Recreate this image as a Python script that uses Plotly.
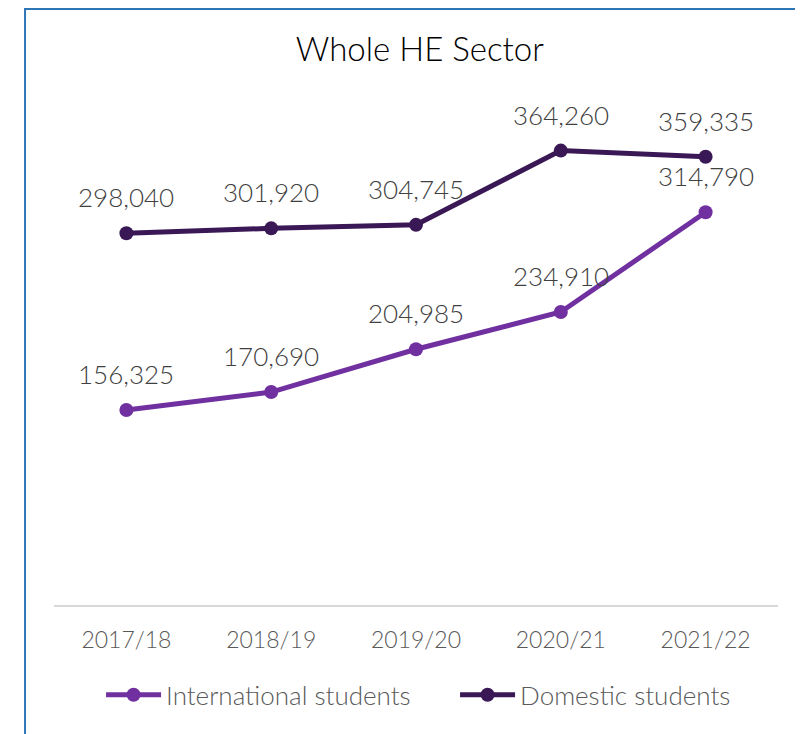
import plotly.graph_objects as go

years = ["2017/18", "2018/19", "2019/20", "2020/21", "2021/22"]
international = [156325, 170690, 204985, 234910, 314790]
domestic = [298040, 301920, 304745, 364260, 359335]

C_INT = "#7030A0"
C_DOM = "#3A1855"
FONT = "Lato"

fig = go.Figure()
fig.add_trace(go.Scatter(x=years, y=international, name="International students",
                         mode="lines+markers", line=dict(color=C_INT, width=5),
                         marker=dict(size=14, color=C_INT), legendwidth=284))
fig.add_trace(go.Scatter(x=years, y=domestic, name="Domestic students",
                         mode="lines+markers", line=dict(color=C_DOM, width=5),
                         marker=dict(size=14, color=C_DOM)))

annotations = []
for series in (international, domestic):
    for x, v in zip(years, series):
        annotations.append(dict(x=x, y=v, xref="x", yref="y", text=f"{v:,}",
                                showarrow=False, yshift=36,
                                font=dict(family=FONT, size=26, color="#404040", weight=300)))

fig.update_layout(
    width=795, height=726,
    margin=dict(l=46, r=25, t=98, b=129),
    paper_bgcolor="white", plot_bgcolor="white",
    title=dict(text="Whole HE Sector", x=0.518, xanchor="center", y=0.943, yanchor="middle",
               font=dict(family=FONT, size=33, color="#000000", weight=300)),
    xaxis=dict(range=[-0.5, 4.5], showgrid=False, showline=True, linecolor="#D9D9D9",
               linewidth=1.5, ticks="", ticklabelstandoff=14,
               tickfont=dict(family=FONT, size=23, color="#595959", weight=300)),
    yaxis=dict(range=[0, 400000], visible=False, showgrid=False, zeroline=False),
    legend=dict(orientation="h", x=0.065, xanchor="left", y=-0.18, yanchor="middle",
                font=dict(family=FONT, size=26, color="#595959", weight=300),
                itemwidth=55),
    showlegend=True,
    annotations=annotations,
    shapes=[dict(type="rect", xref="paper", yref="paper", x0=-0.040, x1=1.2,
                 y0=-0.5, y1=1.1944, line=dict(color="#2E75B6", width=2),
                 fillcolor="rgba(0,0,0,0)", layer="above")],
)

fig.write_html("out.html")
